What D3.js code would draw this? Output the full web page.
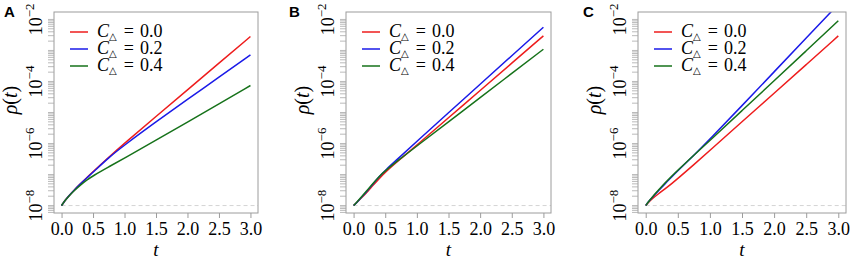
<!DOCTYPE html>
<html>
<head>
<meta charset="utf-8">
<script src="https://cdn.jsdelivr.net/npm/d3@7"></script>
<style>
  body { margin: 0; background: #fff; }
</style>
</head>
<body>
<svg id="chart"></svg>
<script>
// shared x values (time t)
const tValues = [0, 0.05, 0.1, 0.2, 0.3, 0.4, 0.5, 0.75, 1.0, 1.5, 2.0, 2.5, 3.0];
const xTicks = [0, 0.5, 1.0, 1.5, 2.0, 2.5, 3.0];
const yTickExps = [-8, -6, -4, -2];
const yLimits = [1e-8, 1e-2];
const rhoStart = 1e-8;
const panelNames = ["A", "B", "C"];
const legendValues = ["0.0", "0.2", "0.4"];
const colors = ["#ee1c1c", "#1a1ae8", "#16721a"];

// panel A : rho(t) for C = 0.0, 0.2, 0.4
const rhoA0 = [1.000e-8, 1.413e-8, 1.905e-8, 3.162e-8, 5.012e-8, 7.943e-8, 1.230e-7, 3.631e-7, 1.023e-6, 7.413e-6, 5.370e-5, 3.890e-4, 2.818e-3];
const rhoA2 = [1.000e-8, 1.413e-8, 1.905e-8, 3.162e-8, 5.012e-8, 7.762e-8, 1.175e-7, 3.548e-7, 8.913e-7, 5.012e-6, 2.630e-5, 1.380e-4, 7.244e-4];
const rhoA4 = [1.000e-8, 1.413e-8, 1.862e-8, 3.020e-8, 4.571e-8, 6.607e-8, 9.120e-8, 1.778e-7, 3.388e-7, 1.288e-6, 4.898e-6, 1.905e-5, 7.413e-5];
// panel B
const rhoB0 = [1.000e-8, 1.259e-8, 1.585e-8, 2.512e-8, 4.365e-8, 7.244e-8, 1.202e-7, 3.311e-7, 8.913e-7, 6.761e-6, 5.129e-5, 3.890e-4, 2.951e-3];
const rhoB2 = [1.000e-8, 1.259e-8, 1.622e-8, 2.692e-8, 4.786e-8, 8.318e-8, 1.380e-7, 3.981e-7, 1.175e-6, 9.772e-6, 8.128e-5, 6.761e-4, 5.623e-3];
const rhoB4 = [1.000e-8, 1.288e-8, 1.660e-8, 2.884e-8, 5.012e-8, 8.511e-8, 1.318e-7, 3.388e-7, 8.318e-7, 5.012e-6, 3.020e-5, 1.820e-4, 1.096e-3];
// panel C
const rhoC0 = [1.000e-8, 1.318e-8, 1.660e-8, 2.399e-8, 3.467e-8, 5.012e-8, 7.413e-8, 2.089e-7, 6.026e-7, 5.012e-6, 4.169e-5, 3.467e-4, 2.951e-3];
const rhoC2 = [1.000e-8, 1.380e-8, 1.820e-8, 3.020e-8, 5.012e-8, 8.128e-8, 1.318e-7, 4.169e-7, 1.380e-6, 1.660e-5, 2.042e-4, 2.512e-3, 3.090e-2];
const rhoC4 = [1.000e-8, 1.380e-8, 1.862e-8, 3.162e-8, 5.370e-8, 8.710e-8, 1.380e-7, 4.169e-7, 1.259e-6, 1.148e-5, 1.047e-4, 9.772e-4, 9.120e-3];

const panelSeries = [[rhoA0, rhoA2, rhoA4], [rhoB0, rhoB2, rhoB4], [rhoC0, rhoC2, rhoC4]];

// layout
const width = 851, height = 261;
const boxes = [[54, 258], [346, 551], [638, 846]];
const labelX = [4, 289, 583];
const boxTop = 12, boxBottom = 213;
const boxColor = "#9c9c9c";
const serif = "Liberation Serif, DejaVu Serif, serif";

const svg = d3.select("#chart")
  .attr("width", width)
  .attr("height", height)
  .attr("viewBox", [0, 0, width, height])
  .attr("font-family", serif);

// R style 4% padding
const lx0 = Math.log10(yLimits[0]), lx1 = Math.log10(yLimits[1]);
const padY = (lx1 - lx0) * 0.04;
const yDomain = [Math.pow(10, lx0 - padY), Math.pow(10, lx1 + padY)];
const xDomain = [0 - 3 * 0.04, 3 + 3 * 0.04];

panelSeries.forEach((series, i) => {
  const [L, R] = boxes[i];
  const x = d3.scaleLinear(xDomain, [L, R]);
  const y = d3.scaleLog(yDomain, [boxBottom, boxTop]);
  const g = svg.append("g");

  //裁剪区域
  g.append("clipPath").attr("id", "clip" + i)
    .append("rect")
      .attr("x", L).attr("y", boxTop)
      .attr("width", R - L).attr("height", boxBottom - boxTop);

  // dashed baseline
  g.append("line")
    .attr("x1", x(0)).attr("x2", R)
    .attr("y1", y(rhoStart)).attr("y2", y(rhoStart))
    .attr("stroke", "#d4d4d4")
    .attr("stroke-dasharray", "4,3");

  // curves
  const line = d3.line()
    .x((d, k) => x(tValues[k]))
    .y(d => y(d))
    .curve(d3.curveBasis);
  g.append("g")
    .attr("clip-path", `url(#clip${i})`)
    .selectAll("path")
    .data(series)
    .join("path")
      .attr("fill", "none")
      .attr("stroke", (d, j) => colors[j])
      .attr("stroke-width", 1.5)
      .attr("d", line);

  // box
  g.append("rect")
    .attr("x", L).attr("y", boxTop)
    .attr("width", R - L).attr("height", boxBottom - boxTop)
    .attr("fill", "none")
    .attr("stroke", boxColor);

  // x axis
  const xAxis = d3.axisBottom(x).tickValues(xTicks).tickSize(5).tickPadding(4)
    .tickFormat(d3.format(".1f"));
  g.append("g")
    .attr("transform", `translate(0,${boxBottom})`)
    .call(xAxis)
    .call(a => a.attr("font-family", serif).attr("font-size", 18))
    .call(a => a.select(".domain").remove())
    .call(a => a.selectAll(".tick line").attr("stroke", boxColor))
    .call(a => a.selectAll(".tick text").attr("fill", "#000"));
  g.append("text")
    .attr("x", x(1.5)).attr("y", 256)
    .attr("text-anchor", "middle")
    .attr("font-size", 19)
    .attr("font-style", "italic")
    .text("t");

  // y minor ticks (log rug)
  const minor = [];
  for (let e = -9; e <= -1; e++) {
    for (let k = 1; k <= 9; k++) {
      const v = k * Math.pow(10, e);
      if (v >= yDomain[0] && v <= yDomain[1]) minor.push(v);
    }
  }
  g.append("g")
    .selectAll("line")
    .data(minor)
    .join("line")
      .attr("x1", L - 6).attr("x2", L)
      .attr("y1", d => y(d)).attr("y2", d => y(d))
      .attr("stroke", "#a8a8a8")
      .attr("stroke-width", 0.8);

  // y tick labels, rotated
  const yl = g.append("g")
    .selectAll("text")
    .data(yTickExps)
    .join("text")
      .attr("transform", d => `translate(${L - 12},${y(Math.pow(10, d))}) rotate(-90)`)
      .attr("text-anchor", "middle")
      .attr("font-size", 18);
  yl.append("tspan").text("10");
  yl.append("tspan")
    .attr("dy", -8)
    .attr("font-size", 13)
    .text(d => "\u2212" + Math.abs(d));

  // y title rho(t)
  const yt = g.append("text")
    .attr("transform", `translate(${L - 37},100) rotate(-90)`)
    .attr("text-anchor", "middle")
    .attr("font-size", 20);
  yt.append("tspan").attr("font-style", "italic").text("\u03c1");
  yt.append("tspan").text("(");
  yt.append("tspan").attr("font-style", "italic").text("t");
  yt.append("tspan").text(")");

  // legend
  const lg = g.append("g")
    .selectAll("g")
    .data(legendValues)
    .join("g")
      .attr("transform", (d, j) => `translate(${L + 16},${32 + j * 17})`);
  lg.append("line")
    .attr("x1", 0).attr("x2", 18)
    .attr("stroke", (d, j) => colors[j])
    .attr("stroke-width", 1.5);
  const lt = lg.append("text")
    .attr("x", 27).attr("y", 5)
    .attr("font-size", 18);
  lt.append("tspan").attr("font-style", "italic").text("C");
  lt.append("tspan").attr("dy", 3).attr("font-size", 10)
    .attr("font-family", "DejaVu Sans, sans-serif").text("\u25b3");
  lt.append("tspan").attr("dy", -3).attr("dx", 7).text("=");
  lt.append("tspan").attr("dx", 6).text(d => d);

  // panel letter
  svg.append("text")
    .attr("x", labelX[i]).attr("y", 17)
    .attr("font-family", "Liberation Sans, Arial, sans-serif")
    .attr("font-weight", "bold")
    .attr("font-size", 15)
    .text(panelNames[i]);
});
</script>
</body>
</html>
